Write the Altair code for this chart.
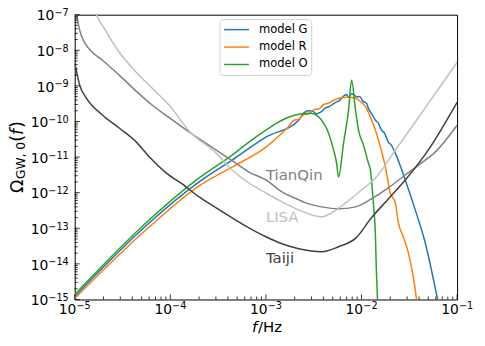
import altair as alt
import pandas as pd

# ---------------- data ----------------
f_G = [1e-5, 6.04e-5, 2.0e-4, 4.43e-4, 1.0e-3, 2.21e-3, 2.49e-3, 2.81e-3, 3.09e-3, 3.40e-3,
       3.74e-3, 4.22e-3, 4.64e-3, 4.99e-3, 5.36e-3, 5.90e-3, 6.49e-3, 6.98e-3, 7.32e-3, 7.87e-3,
       8.46e-3, 8.87e-3, 9.53e-3, 1.05e-2, 1.13e-2, 1.18e-2, 1.27e-2, 1.40e-2, 1.50e-2, 1.62e-2,
       1.74e-2, 1.91e-2, 2.05e-2, 2.26e-2, 2.55e-2, 2.87e-2, 3.65e-2, 4.64e-2, 6.19e-2, 6.5e-2]
om_G = [1.21e-15, 1.43e-13, 2.0e-12, 8.24e-12, 3.62e-11, 1.08e-10, 1.75e-10, 2.0e-10, 1.94e-10, 1.65e-10,
        1.82e-10, 2.40e-10, 2.67e-10, 3.04e-10, 3.45e-10, 3.93e-10, 5.2e-10, 5.6e-10, 4.9e-10, 6.0e-10,
        5.42e-10, 4.9e-10, 5.0e-10, 3.6e-10, 3.24e-10, 2.35e-10, 1.70e-10, 1.08e-10, 9.0e-11, 5.69e-11,
        4.69e-11, 2.63e-11, 2.17e-11, 1.29e-11, 5.60e-12, 2.28e-12, 3.29e-13, 3.93e-14, 1.14e-15, 6e-16]

f_R = [1e-5, 6.04e-5, 2.0e-4, 4.43e-4, 1.0e-3, 1.47e-3, 1.74e-3, 1.96e-3, 2.21e-3, 2.49e-3,
       2.81e-3, 3.16e-3, 3.56e-3, 4.02e-3, 4.53e-3, 5.11e-3, 5.76e-3, 7.32e-3, 8.66e-3, 1.0e-2,
       1.13e-2, 1.24e-2, 1.40e-2, 1.58e-2, 1.78e-2, 2.0e-2, 2.26e-2, 2.43e-2, 2.74e-2, 3.09e-2,
       3.32e-2, 3.56e-2, 3.74e-2, 3.9e-2]
om_R = [1.07e-15, 1.10e-13, 1.55e-12, 5.25e-12, 1.91e-11, 4.69e-11, 7.36e-11, 1.08e-10, 1.16e-10, 1.55e-10,
        1.62e-10, 2.15e-10, 2.25e-10, 3.0e-10, 3.24e-10, 3.93e-10, 4.47e-10, 4.76e-10, 4.47e-10, 3.45e-10,
        2.35e-10, 1.32e-10, 5.69e-11, 1.91e-11, 5.25e-12, 9.84e-13, 5.16e-13, 1.43e-13, 5.78e-14, 2.07e-14,
        8.38e-15, 2.99e-15, 1.14e-15, 5e-16]

f_O = [1e-5, 6.04e-5, 2.0e-4, 4.43e-4, 6.65e-4, 1.0e-3, 1.47e-3, 2.21e-3, 2.94e-3, 3.83e-3,
       4.53e-3, 5.11e-3, 5.49e-3, 5.76e-3, 6.49e-3, 7.32e-3, 7.87e-3, 8.66e-3, 9.31e-3, 1.05e-2,
       1.18e-2, 1.24e-2, 1.33e-2, 1.40e-2, 1.43e-2, 1.47e-2, 1.49e-2]
om_O = [1.38e-15, 1.73e-13, 2.59e-12, 1.14e-11, 2.63e-11, 5.69e-11, 1.08e-10, 1.60e-10, 1.70e-10, 1.08e-10,
        4.69e-11, 1.57e-11, 6.79e-12, 2.76e-12, 2.47e-11, 2.07e-10, 1.43e-9, 2.07e-10, 5.69e-11, 2.17e-11,
        6.79e-12, 4.33e-12, 5.16e-13, 5.78e-14, 6.90e-15, 1e-15, 5e-16]

f_TianQin = [1.02e-5, 1.05e-5, 1.13e-5, 1.27e-5, 1.54e-5, 1.96e-5, 2.94e-5, 4.42e-5, 6.49e-5, 9.77e-5,
             1.58e-4, 3.02e-4, 4.43e-4, 6.65e-4, 1.0e-3, 1.47e-3, 2.21e-3, 2.61e-3, 3.83e-3, 5.76e-3,
             8.66e-3, 1.27e-2, 1.91e-2, 2.87e-2, 4.22e-2, 5.9e-2, 1.0e-1]
om_TianQin = [2e-7, 1e-7, 3.56e-8, 1.65e-8, 8.65e-9, 5.16e-9, 1.97e-9, 7.01e-10, 2.85e-10, 1.27e-10,
              5.0e-11, 1.57e-11, 8.0e-12, 3.80e-12, 2.28e-12, 1.05e-12, 6.27e-13, 5.16e-13, 3.99e-13, 3.51e-13,
              3.99e-13, 6.68e-13, 1.36e-12, 3.14e-12, 6.79e-12, 1.38e-11, 7.85e-11]

f_LISA = [1.58e-5, 1.69e-5, 1.96e-5, 2.94e-5, 4.42e-5, 6.49e-5, 9.77e-5, 1.58e-4, 3.02e-4, 4.43e-4,
          6.65e-4, 1.0e-3, 1.47e-3, 2.21e-3, 3.83e-3, 4.87e-3, 6.81e-3, 1.0e-2, 1.40e-2, 2.26e-2,
          2.87e-2, 5.36e-2, 1.0e-1]
om_LISA = [1.79e-7, 1e-7, 4.92e-8, 8.65e-9, 2.39e-9, 8.51e-10, 2.85e-10, 5.33e-11, 1.29e-11, 4.33e-12,
           1.87e-12, 9.84e-13, 5.51e-13, 3.29e-13, 2.10e-13, 2.72e-13, 5.16e-13, 1.19e-12, 2.59e-12, 1.57e-11,
           3.86e-11, 4.2e-10, 4.54e-9]

f_Taiji = [1.0e-5, 1.13e-5, 1.33e-5, 1.96e-5, 2.94e-5, 4.42e-5, 6.04e-5, 9.09e-5, 1.33e-4, 2.0e-4,
           3.02e-4, 4.43e-4, 6.65e-4, 1.0e-3, 1.47e-3, 2.21e-3, 3.83e-3, 5.76e-3, 8.66e-3, 1.27e-2,
           1.91e-2, 2.87e-2, 4.99e-2, 1.0e-1]
om_Taiji = [4.54e-9, 1.03e-9, 4.47e-10, 1.50e-10, 6.47e-11, 2.63e-11, 1.0e-11, 3.56e-12, 1.76e-12, 7.6e-13,
            3.74e-13, 1.97e-13, 1.03e-13, 5.78e-14, 3.68e-14, 2.67e-14, 2.20e-14, 3.04e-14, 5.2e-14, 1.97e-13,
            6.68e-13, 2.28e-12, 1.57e-11, 3.45e-10]

model_names = ["model G", "model R", "model O"]
model_colors = ["#1f77b4", "#ff7f0e", "#2ca02c"]

detector_names = ["TianQin", "LISA", "Taiji"]
detector_colors = ["#808080", "#c0c0c0", "#404040"]
label_f = [1.0e-3, 1.0e-3, 1.0e-3]
label_om = [2.2e-12, 1.52e-13, 1.08e-14]

x_exps = [-5, -4, -3, -2, -1]
y_exps = [-15, -14, -13, -12, -11, -10, -9, -8, -7]

# ---------------- helpers ----------------
W, H = 384, 286
FONT = "DejaVu Sans"
LBL = 13.9           # tick label size
SUPSZ = 9.73         # exponent size

xscale = alt.Scale(type="log", domain=[1e-5, 1e-1], nice=False)
yscale = alt.Scale(type="log", domain=[1e-15, 1e-7], nice=False)

x_axis = alt.Axis(values=[10.0 ** e for e in x_exps], labels=False, ticks=False, tickSize=0,
                  domain=False, grid=False)
y_axis = alt.Axis(values=[10.0 ** e for e in y_exps], labels=False, ticks=False, tickSize=0,
                  domain=False, grid=False)


def X():
    return alt.X("f:Q", scale=xscale, axis=x_axis, title="")


def Y():
    return alt.Y("omega:Q", scale=yscale, axis=y_axis, title="")


def exp_text(e):
    return "\u2212" + str(-e)


x_major = [10.0 ** e for e in x_exps]
y_major = [10.0 ** e for e in y_exps]
x_minor = [m * 10.0 ** e for e in x_exps[:-1] for m in range(2, 10)]
y_minor = [m * 10.0 ** e for e in y_exps[:-1] for m in range(2, 10)]

layers = []

# model curves
for fs, oms, col in zip([f_G, f_R, f_O], [om_G, om_R, om_O], model_colors):
    df = pd.DataFrame({"f": fs, "omega": oms})
    layers.append(
        alt.Chart(df).mark_line(clip=True, strokeWidth=1.5, color=col, interpolate="monotone")
        .encode(x=X(), y=Y())
    )

# detector sensitivity curves
for fs, oms, col in zip([f_TianQin, f_LISA, f_Taiji], [om_TianQin, om_LISA, om_Taiji], detector_colors):
    df = pd.DataFrame({"f": fs, "omega": oms})
    layers.append(
        alt.Chart(df).mark_line(clip=True, strokeWidth=1.5, color=col, interpolate="monotone")
        .encode(x=X(), y=Y())
    )

# detector labels
lab_df = pd.DataFrame({"f": label_f, "omega": label_om, "name": detector_names, "c": detector_colors})
layers.append(
    alt.Chart(lab_df).mark_text(align="left", baseline="alphabetic", font=FONT, fontSize=15)
    .encode(x=X(), y=Y(), text="name:N", color=alt.Color("c:N", scale=None))
)

# inward ticks
for vals, length in [(x_major, 5), (x_minor, 3)]:
    layers.append(
        alt.Chart(pd.DataFrame({"f": vals})).mark_rule(color="black", strokeWidth=0.8)
        .encode(x=X(), y=alt.value(H), y2=alt.value(H - length))
    )
for vals, length in [(y_major, 5), (y_minor, 3)]:
    layers.append(
        alt.Chart(pd.DataFrame({"omega": vals})).mark_rule(color="black", strokeWidth=0.8)
        .encode(y=Y(), x=alt.value(0), x2=alt.value(length))
    )

# x tick labels: "10" + raised exponent
xl = pd.DataFrame({"f": x_major, "base": ["10"] * len(x_major), "ex": [exp_text(e) for e in x_exps]})
layers.append(
    alt.Chart(xl).mark_text(align="left", baseline="alphabetic", font=FONT, fontSize=LBL, dx=-16, color="black")
    .encode(x=X(), y=alt.value(H + 15), text="base:N")
)
layers.append(
    alt.Chart(xl).mark_text(align="left", baseline="alphabetic", font=FONT, fontSize=SUPSZ, dx=1.8, color="black")
    .encode(x=X(), y=alt.value(H + 10), text="ex:N")
)

# y tick labels: exponent right-aligned at the axis, "10" to its left
yl = pd.DataFrame({"omega": y_major, "base": ["10"] * len(y_major), "ex": [exp_text(e) for e in y_exps],
                   "two": [abs(e) >= 10 for e in y_exps]})
layers.append(
    alt.Chart(yl).mark_text(align="right", baseline="alphabetic", font=FONT, fontSize=SUPSZ, dy=1.6, color="black")
    .encode(x=alt.value(-6), y=Y(), text="ex:N")
)
layers.append(
    alt.Chart(yl).transform_filter("datum.two").mark_text(align="right", baseline="alphabetic", font=FONT,
                                                           fontSize=LBL, dy=5.7, color="black")
    .encode(x=alt.value(-6 - 20.5), y=Y(), text="base:N")
)
layers.append(
    alt.Chart(yl).transform_filter("!datum.two").mark_text(align="right", baseline="alphabetic", font=FONT,
                                                            fontSize=LBL, dy=5.7, color="black")
    .encode(x=alt.value(-6 - 14.4), y=Y(), text="base:N")
)

# legend
layers.append(
    alt.Chart(pd.DataFrame({"a": [0]})).mark_rect(fill="white", fillOpacity=0.8, stroke="#d0d0d0",
                                                  strokeWidth=1, cornerRadius=3)
    .encode(x=alt.value(146), x2=alt.value(238), y=alt.value(5), y2=alt.value(61))
)
for i, (name, col) in enumerate(zip(model_names, model_colors)):
    yy = 15 + 17.5 * i
    layers.append(
        alt.Chart(pd.DataFrame({"a": [0]})).mark_rule(color=col, strokeWidth=1.5)
        .encode(x=alt.value(150), x2=alt.value(175), y=alt.value(yy))
    )
    layers.append(
        alt.Chart(pd.DataFrame({"a": [0]})).mark_text(align="left", baseline="middle", font=FONT,
                                                      fontSize=11.6, color="black")
        .encode(x=alt.value(185), y=alt.value(yy), text=alt.value(name))
    )


def txt(s, x, y, size, angle=0, style="normal", baseline="alphabetic"):
    props = dict(align="left", baseline=baseline, font=FONT, fontSize=size, color="black", fontStyle=style)
    if angle:
        props["angle"] = angle
    return (alt.Chart(pd.DataFrame({"a": [0]})).mark_text(**props)
            .encode(x=alt.value(x), y=alt.value(y), text=alt.value(s)))


# x title: f/Hz
layers.append(txt("f", 178, 319, 15, style="italic"))
layers.append(txt("/Hz", 184, 319, 15))

# y title: Omega_{GW,0}(f)  (rotated)
layers.append(txt("Ω", -51.5, 179, 17.5, angle=270))
layers.append(txt("GW, 0", -49.5, 165, 12.3, angle=270))
layers.append(txt("(", -51.5, 127.7, 17.5, angle=270))
layers.append(txt("f", -51.5, 120.9, 17.5, angle=270, style="italic"))
layers.append(txt(")", -51.5, 113.7, 17.5, angle=270))

chart = (
    alt.layer(*layers)
    .properties(width=W, height=H, padding={"left": 67, "top": 6, "right": 20, "bottom": 45},
                autosize=alt.AutoSizeParams(type="none"))
    .configure_view(stroke="black", strokeWidth=1)
)

chart.save("out.html", embed_options={"renderer": "svg", "actions": False})
